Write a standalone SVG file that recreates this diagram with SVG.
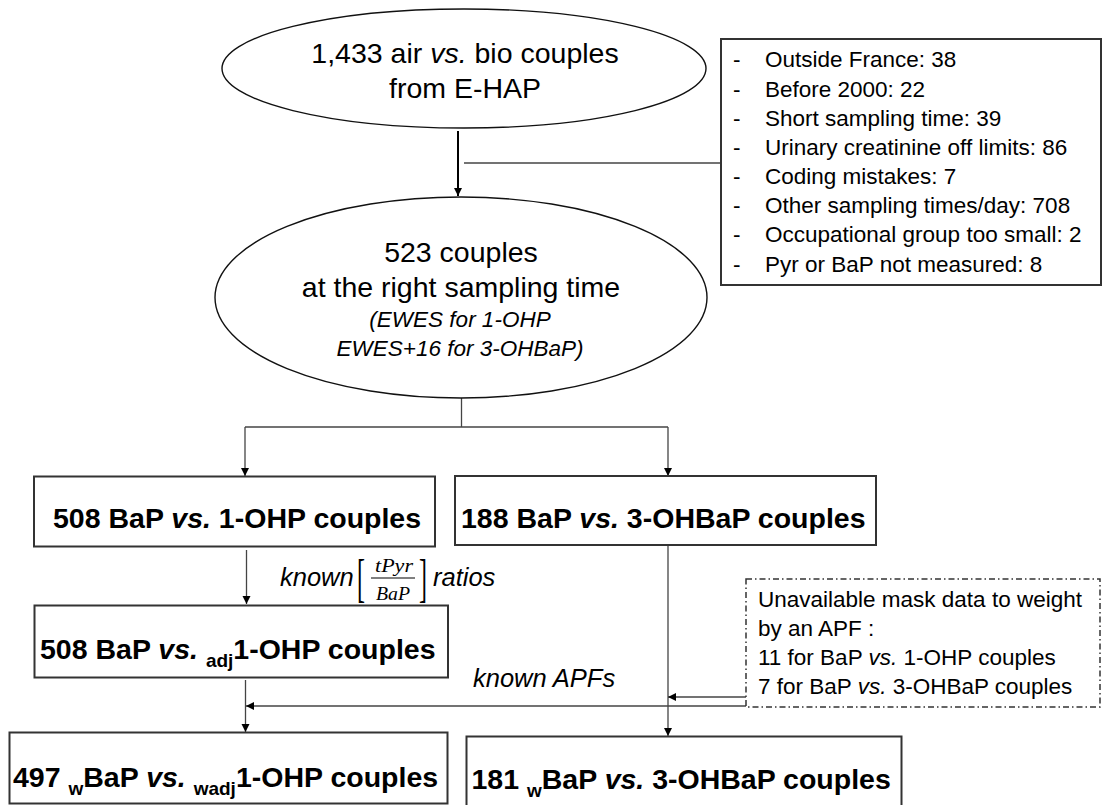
<svg xmlns="http://www.w3.org/2000/svg" width="1103" height="805" viewBox="0 0 1103 805">
<style>
  text { font-family: "Liberation Sans", Arial, sans-serif; fill: #000; }
  .big { font-size: 28.5px; }
  .it { font-style: italic; }
  .bold { font-weight: bold; font-size: 28.5px; }
  .sub { font-size: 19px; font-weight: bold; }
  .list { font-size: 22.5px; }
  .note { font-size: 22.5px; }
  .lab { font-size: 25.5px; font-style: italic; }
  .math { font-family: "Liberation Serif", "Times New Roman", serif; font-style: italic; font-size: 18px; }
  .br { font-family: "Liberation Serif", "Times New Roman", serif; font-size: 52px; }
  .ell { fill: #fff; stroke: #111; stroke-width: 1.4; }
  .box { fill: #fff; stroke: #333; stroke-width: 2; }
  .dbox { fill: #fff; stroke: #333; stroke-width: 1.5; stroke-dasharray: 6 3 1.5 3; }
  .ln { fill: none; stroke: #444; stroke-width: 1.3; }
  .thick { fill: none; stroke: #000; stroke-width: 2; }
</style>
<defs>
  <marker id="ah" viewBox="0 0 10 10" refX="10" refY="5" markerUnits="userSpaceOnUse" markerWidth="8" markerHeight="9" orient="auto">
    <path d="M0,0 L10,5 L0,10 z" fill="#000"/>
  </marker>
</defs>
<rect width="1103" height="805" fill="#fff"/>

<g id="connectors">
  <line class="thick" x1="458" y1="131" x2="458" y2="196" marker-end="url(#ah)"/>
  <line class="ln" x1="464" y1="163" x2="721" y2="163"/>
  <polyline class="ln" points="461.5,398 461.5,427"/>
  <line class="ln" x1="245" y1="427" x2="668" y2="427"/>
  <line class="ln" x1="245" y1="427" x2="245" y2="476" marker-end="url(#ah)"/>
  <line class="ln" x1="668" y1="427" x2="668" y2="476" marker-end="url(#ah)"/>
  <line class="ln" x1="246.5" y1="550" x2="246.5" y2="604" marker-end="url(#ah)"/>
  <line class="ln" x1="245.5" y1="680" x2="245.5" y2="732" marker-end="url(#ah)"/>
  <line class="ln" x1="746" y1="706" x2="246" y2="706" marker-end="url(#ah)"/>
  <line class="ln" x1="668" y1="546" x2="668" y2="736" marker-end="url(#ah)"/>
  <line class="ln" x1="746" y1="697" x2="668" y2="697" marker-end="url(#ah)"/>
</g>

<g id="label-ratios">
  <text class="lab" x="280" y="586">known</text>
  <text class="br" x="357" y="596" textLength="8" lengthAdjust="spacingAndGlyphs">[</text>
  <text class="math" x="375" y="571.5" textLength="38" lengthAdjust="spacingAndGlyphs">tPyr</text>
  <line x1="371" y1="578" x2="415" y2="578" stroke="#000" stroke-width="1"/>
  <text class="math" x="376" y="599.5" textLength="34" lengthAdjust="spacingAndGlyphs">BaP</text>
  <text class="br" x="419" y="596" textLength="8" lengthAdjust="spacingAndGlyphs">]</text>
  <text class="lab" x="433" y="586">ratios</text>
</g>

<g id="label-apf">
  <text class="lab" x="473" y="687">known APFs</text>
</g>

<g id="n-start">
  <ellipse class="ell" cx="464" cy="68.5" rx="242" ry="59.5"/>
  <text class="big" x="465" y="63" text-anchor="middle">1,433 air <tspan class="it">vs.</tspan> bio couples</text>
  <text class="big" x="465" y="97.5" text-anchor="middle">from E-HAP</text>
</g>

<g id="n-exclusions">
  <rect class="box" x="721" y="39" width="380" height="246"/>
  <g class="list">
    <text x="733" y="67">-</text><text x="765" y="67">Outside France: 38</text>
    <text x="733" y="96.5">-</text><text x="765" y="96.5">Before 2000: 22</text>
    <text x="733" y="126">-</text><text x="765" y="126">Short sampling time: 39</text>
    <text x="733" y="155">-</text><text x="765" y="155">Urinary creatinine off limits: 86</text>
    <text x="733" y="184">-</text><text x="765" y="184">Coding mistakes: 7</text>
    <text x="733" y="213">-</text><text x="765" y="213">Other sampling times/day: 708</text>
    <text x="733" y="242">-</text><text x="765" y="242">Occupational group too small: 2</text>
    <text x="733" y="271.5">-</text><text x="765" y="271.5">Pyr or BaP not measured: 8</text>
  </g>
</g>

<g id="n-523">
  <ellipse class="ell" cx="461" cy="297.5" rx="246" ry="100.5"/>
  <text class="big" x="461" y="262" text-anchor="middle">523 couples</text>
  <text class="big" x="461" y="297" text-anchor="middle">at the right sampling time</text>
  <text class="it" x="460" y="327" text-anchor="middle" font-size="22.5">(EWES for 1-OHP</text>
  <text class="it" x="460" y="356" text-anchor="middle" font-size="22.5">EWES+16 for 3-OHBaP)</text>
</g>

<g id="n-508">
  <rect class="box" x="34" y="476.5" width="401" height="70"/>
  <text class="bold" x="53" y="528">508 BaP <tspan font-style="italic">vs.</tspan> 1-OHP couples</text>
</g>

<g id="n-188">
  <rect class="box" x="455" y="476" width="421" height="69"/>
  <text class="bold" x="461" y="528">188 BaP <tspan font-style="italic">vs.</tspan> 3-OHBaP couples</text>
</g>

<g id="n-508adj">
  <rect class="box" x="34.5" y="605.5" width="413.5" height="72"/>
  <text class="bold" x="40" y="659">508 BaP <tspan font-style="italic">vs.</tspan> <tspan class="sub" dy="8">adj</tspan><tspan dy="-8">1-OHP couples</tspan></text>
</g>

<g id="n-mask">
  <rect class="dbox" x="746" y="579" width="354" height="128"/>
  <text class="note" x="758" y="607">Unavailable mask data to weight</text>
  <text class="note" x="758" y="636">by an APF :</text>
  <text class="note" x="758" y="665">11 for BaP <tspan class="it">vs.</tspan> 1-OHP couples</text>
  <text class="note" x="758" y="694">7 for BaP <tspan class="it">vs.</tspan> 3-OHBaP couples</text>
</g>

<g id="n-497">
  <rect class="box" x="9.5" y="732.5" width="438" height="71"/>
  <text class="bold" x="13" y="787">497 <tspan class="sub" dy="8">w</tspan><tspan dy="-8">BaP </tspan><tspan font-style="italic">vs.</tspan> <tspan class="sub" dy="8">wadj</tspan><tspan dy="-8">1-OHP couples</tspan></text>
</g>

<g id="n-181">
  <rect class="box" x="466.5" y="736.5" width="435" height="75"/>
  <text class="bold" x="471.5" y="789">181 <tspan class="sub" dy="8">w</tspan><tspan dy="-8">BaP </tspan><tspan font-style="italic">vs.</tspan> 3-OHBaP couples</text>
</g>
</svg>
